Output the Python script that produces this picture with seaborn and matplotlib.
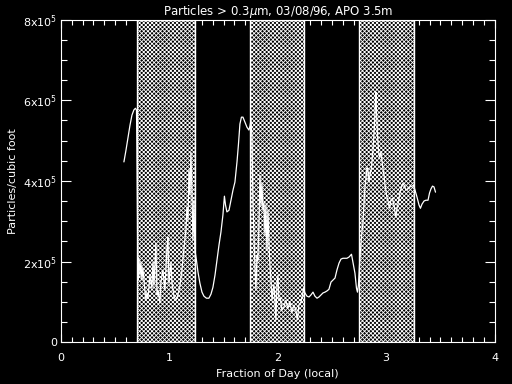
"""
Partículas > 0.3 µm, APO 3.5 m (03/08/96) — recriação do gráfico estilo IDL.
Fundo preto, linha branca e faixas noturnas hachuradas.
"""

import matplotlib

matplotlib.use("Agg")

import matplotlib.pyplot as plt
import pandas as pd
import seaborn as sns
from matplotlib.ticker import FuncFormatter, MultipleLocator

# Fração do dia (local)
dia = [
    0.581, 0.600, 0.618, 0.637, 0.655, 0.673, 0.687, 0.697, 0.701, 0.706,
    0.710, 0.720, 0.729, 0.738, 0.747, 0.756, 0.770, 0.784, 0.793, 0.803,
    0.821, 0.839, 0.849, 0.858, 0.876, 0.886, 0.895, 0.913, 0.922, 0.941,
    0.959, 0.978, 0.987, 0.996, 1.015, 1.024, 1.042, 1.061, 1.079, 1.098,
    1.116, 1.135, 1.153, 1.162, 1.172, 1.181, 1.190, 1.199, 1.208, 1.218,
    1.227, 1.236, 1.250, 1.264, 1.282, 1.301, 1.319, 1.342, 1.365, 1.384,
    1.402, 1.421, 1.439, 1.458, 1.476, 1.494, 1.508, 1.518, 1.531, 1.550,
    1.568, 1.587, 1.605, 1.624, 1.637, 1.651, 1.665, 1.679, 1.697, 1.716,
    1.734, 1.744, 1.753, 1.762, 1.771, 1.780, 1.790, 1.799, 1.808, 1.817,
    1.827, 1.836, 1.845, 1.854, 1.863, 1.873, 1.882, 1.891, 1.900, 1.910,
    1.919, 1.928, 1.937, 1.947, 1.956, 1.965, 1.974, 1.983, 1.993, 2.002,
    2.011, 2.025, 2.038, 2.057, 2.075, 2.093, 2.112, 2.130, 2.149, 2.167,
    2.181, 2.195, 2.214, 2.228, 2.237, 2.251, 2.269, 2.288, 2.306, 2.325,
    2.343, 2.362, 2.380, 2.399, 2.417, 2.435, 2.454, 2.472, 2.491, 2.509,
    2.528, 2.546, 2.565, 2.583, 2.601, 2.620, 2.638, 2.657, 2.680, 2.694,
    2.712, 2.726, 2.735, 2.744, 2.754, 2.763, 2.772, 2.786, 2.795, 2.804,
    2.814, 2.823, 2.832, 2.841, 2.850, 2.864, 2.878, 2.892, 2.901, 2.906,
    2.910, 2.920, 2.929, 2.938, 2.952, 2.966, 2.980, 2.993, 3.007, 3.021,
    3.030, 3.044, 3.058, 3.072, 3.081, 3.090, 3.100, 3.113, 3.127, 3.141,
    3.155, 3.169, 3.183, 3.201, 3.219, 3.238, 3.252, 3.266, 3.284, 3.303,
    3.316, 3.330, 3.349, 3.367, 3.386, 3.400, 3.413, 3.427, 3.441, 3.455,
]

# Partículas por pé cúbico, em unidades de 1e5
particulas_e5 = [
    4.47, 4.76, 5.06, 5.38, 5.63, 5.76, 5.80, 5.76, 4.76, 3.20,
    1.54, 2.08, 1.66, 1.98, 1.54, 1.84, 1.41, 1.04, 1.22, 1.09,
    1.66, 1.34, 1.98, 1.41, 2.46, 1.17, 1.29, 0.97, 1.49, 1.79,
    1.29, 2.33, 2.60, 1.46, 1.98, 1.49, 1.14, 1.04, 1.17, 1.41,
    1.79, 2.33, 2.78, 3.35, 3.03, 4.27, 3.65, 4.71, 3.77, 2.53,
    3.52, 2.28, 2.03, 1.74, 1.46, 1.24, 1.14, 1.09, 1.09, 1.19,
    1.36, 1.66, 2.03, 2.41, 2.73, 3.15, 3.62, 3.40, 3.23, 3.27,
    3.52, 3.77, 3.97, 4.47, 4.89, 5.41, 5.58, 5.58, 5.46, 5.33,
    5.26, 5.36, 5.51, 5.09, 3.52, 2.70, 1.79, 1.29, 2.16, 2.03,
    3.03, 4.14, 3.40, 3.94, 3.27, 3.45, 2.65, 3.40, 2.28, 3.27,
    2.41, 1.91, 1.54, 1.04, 1.29, 1.41, 1.04, 0.55, 1.46, 1.66,
    1.04, 1.09, 0.79, 0.87, 1.04, 0.84, 0.99, 0.74, 0.92, 0.79,
    0.55, 0.92, 0.99, 1.17, 1.34, 1.22, 1.14, 1.12, 1.17, 1.24,
    1.14, 1.09, 1.12, 1.17, 1.22, 1.24, 1.27, 1.31, 1.49, 1.54,
    1.59, 1.79, 1.96, 2.06, 2.08, 2.08, 2.08, 2.11, 2.18, 1.98,
    1.71, 1.34, 1.24, 1.41, 1.91, 2.28, 2.60, 2.98, 3.40, 3.85,
    4.07, 4.32, 4.27, 3.97, 4.14, 4.32, 4.76, 5.38, 6.00, 6.20,
    5.76, 5.14, 4.76, 4.59, 4.71, 4.39, 4.14, 3.82, 3.60, 3.45,
    3.32, 3.52, 3.57, 3.40, 3.23, 3.10, 3.32, 3.47, 3.70, 3.85,
    3.94, 3.87, 3.77, 3.80, 3.85, 3.87, 3.89, 3.77, 3.60, 3.40,
    3.32, 3.42, 3.50, 3.52, 3.52, 3.70, 3.80, 3.87, 3.85, 3.72,
]

# Faixas noturnas (início, fim) em fração do dia
noite_inicio = [0.702, 1.746, 2.747]
noite_fim = [1.238, 2.242, 3.255]

sns.set_theme(style="ticks")
plt.rcParams.update({
    "figure.facecolor": "black",
    "axes.facecolor": "black",
    "axes.edgecolor": "white",
    "axes.labelcolor": "white",
    "text.color": "white",
    "xtick.color": "white",
    "ytick.color": "white",
    "hatch.color": "white",
    "hatch.linewidth": 0.6,
    "font.size": 8,
})
plt.rcParams["font.family"] = ["DejaVu Sans"]

df = pd.DataFrame({"dia": dia, "particulas": [v * 1e5 for v in particulas_e5]})

fig = plt.figure(figsize=(5.12, 3.84), dpi=100)
ax = fig.add_axes([0.119, 0.109, 0.847, 0.840])

for ini, fim in zip(noite_inicio, noite_fim):
    ax.axvspan(ini, fim, facecolor="black", edgecolor="white",
               hatch="xxxxxxxx", linewidth=1.0, zorder=1)

sns.lineplot(data=df, x="dia", y="particulas", ax=ax, color="white",
             linewidth=0.9, sort=False, estimator=None, zorder=3)

ax.set_xlim(0, 4)
ax.set_ylim(0, 8e5)
ax.xaxis.set_major_locator(MultipleLocator(1))
ax.xaxis.set_minor_locator(MultipleLocator(0.1))
ax.yaxis.set_major_locator(MultipleLocator(2e5))
ax.yaxis.set_minor_locator(MultipleLocator(0.5e5))


def fmt_y(v, _pos):
    if v == 0:
        return "0"
    return f"{int(round(v / 1e5))}x10$^5$"


ax.yaxis.set_major_formatter(FuncFormatter(fmt_y))
ax.tick_params(which="both", direction="in", top=True, right=True,
               labelsize=8, width=0.8)
ax.tick_params(axis="x", which="major", length=6, pad=8)
ax.tick_params(axis="x", which="minor", length=3.5)
ax.tick_params(axis="y", which="major", length=7, pad=3)
ax.tick_params(axis="y", which="minor", length=4)
for spine in ax.spines.values():
    spine.set_color("white")
    spine.set_linewidth(0.8)

ax.set_title("Particles > 0.3$\\mu$m, 03/08/96, APO 3.5m", fontsize=8.5, pad=3)
ax.set_xlabel("Fraction of Day (local)", fontsize=8)
ax.set_ylabel("Particles/cubic foot", fontsize=8, labelpad=3)

fig.savefig("out.png", dpi=100, facecolor="black")
plt.close(fig)
